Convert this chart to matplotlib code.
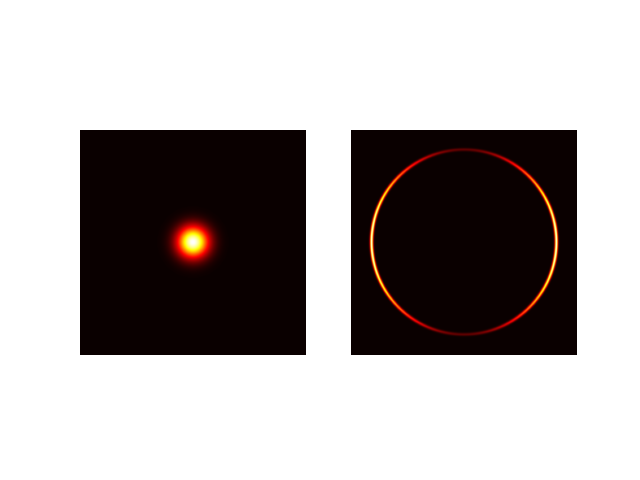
import numpy as np
import matplotlib
matplotlib.use("Agg")
import matplotlib.pyplot as plt

# grid and beam parameters
n_pix = 400
extent = 1.0
spot_sigma = 0.095      # width of the focused spot
ring_radius = 0.82      # radius of the ring
ring_sigma = 0.0095     # thickness of the ring
ring_floor = 0.13       # brightness at top/bottom of the ring

x = np.linspace(-extent, extent, n_pix)
xx, yy = np.meshgrid(x, x)
rr = np.hypot(xx, yy)
phi = np.arctan2(yy, xx)

spot = np.exp(-rr**2 / (2 * spot_sigma**2))
ring = np.exp(-(rr - ring_radius)**2 / (2 * ring_sigma**2))
ring = ring * (ring_floor + (1 - ring_floor) * np.cos(phi)**2)

(fig, axs) = plt.subplots(1, 2, figsize=(6.4, 4.8), dpi=100)
axs[0].imshow(spot, cmap='hot', interpolation='bilinear')
axs[1].imshow(ring, cmap='hot', interpolation='bilinear')
for ax in axs:
    ax.axis('off')

fig.savefig('out.png', dpi=100)
